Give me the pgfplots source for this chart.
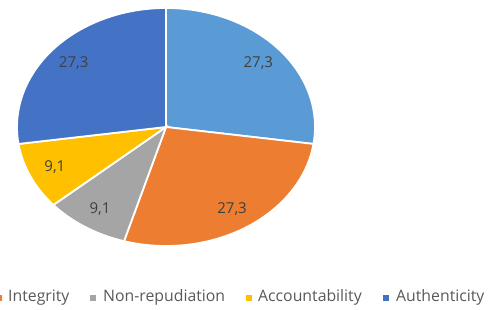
\documentclass[border=0pt]{standalone}
\usepackage{pgfplots}
\pgfplotsset{compat=1.18}
\usepackage{pgfplotstable}
\usepackage{fontspec}
\setmainfont{Open Sans}
\definecolor{cConf}{HTML}{5B9BD5}
\definecolor{cInt}{HTML}{ED7D31}
\definecolor{cNon}{HTML}{A5A5A5}
\definecolor{cAcc}{HTML}{FFC000}
\definecolor{cAut}{HTML}{4472C4}
\definecolor{labtext}{HTML}{404040}
\definecolor{legtext}{HTML}{595959}

\pgfplotstableread{
name value col
Confidentiality 27.3 cConf
Integrity 27.3 cInt
Non-repudiation 9.1 cNon
Accountability 9.1 cAcc
Authenticity 27.3 cAut
}\piedata

\begin{document}
\begin{tikzpicture}[x=1bp,y=1bp]
\useasboundingbox (0,0) rectangle (500,309);
\begin{axis}[at={(166bp,182bp)}, anchor=origin, scale only axis,
  width=298bp, height=238bp, xmin=-1, xmax=1, ymin=-1, ymax=1,
  axis lines=none, clip=false]
\pgfplotstablegetrowsof{\piedata}
\pgfmathtruncatemacro\lastrow{\pgfplotsretval-1}
\gdef\total{0}
\foreach \i in {0,...,\lastrow}{
  \pgfplotstablegetelem{\i}{value}\of\piedata
  \pgfmathsetmacro\tmpsum{\total+\pgfplotsretval}\global\let\total\tmpsum
}
\gdef\angA{90}
\foreach \i in {0,...,\lastrow}{
  \pgfplotstablegetelem{\i}{value}\of\piedata \let\sval\pgfplotsretval
  \pgfplotstablegetelem{\i}{col}\of\piedata \let\slicecol\pgfplotsretval
  \pgfmathsetmacro\angB{\angA-360*\sval/\total}
  \pgfmathsetmacro\midang{(\angA+\angB)/2}
  \pgfmathsetmacro\xs{cos(\angA)}
  \pgfmathsetmacro\ys{sin(\angA)}
  \pgfmathsetmacro\xl{0.82*cos(\midang)}
  \pgfmathsetmacro\yl{0.82*sin(\midang)}
  \edef\temp{\noexpand\fill[\slicecol, draw=white, line width=1.8bp]
      (axis cs:0,0) -- (axis cs:\xs,\ys)
      arc[start angle=\angA, end angle=\angB, radius=1] -- cycle;
    \noexpand\node[font=\noexpand\fontsize{15bp}{18bp}\noexpand\selectfont, text=labtext]
      at (axis cs:\xl,\yl)
      {\noexpand\pgfmathprintnumber[use comma,fixed,precision=1,assume math mode=true]{\sval}};}
  \temp
  \global\let\angA\angB
}
\end{axis}
% legend
\begin{scope}[every node/.style={font=\fontsize{15.8bp}{18bp}\selectfont, text=legtext, anchor=west, inner sep=0pt}]
\fill[cInt] (-4,8.5) rectangle (2,14.5);
\node at (8,11.5) {Integrity};
\fill[cNon] (90,8.5) rectangle (96,14.5);
\node at (103,11.5) {Non-repudiation};
\fill[cAcc] (246,8.5) rectangle (252,14.5);
\node at (258,11.5) {Accountability};
\fill[cAut] (383,8.5) rectangle (389,14.5);
\node at (396,11.5) {Authenticity};
\end{scope}
\end{tikzpicture}
\end{document}
